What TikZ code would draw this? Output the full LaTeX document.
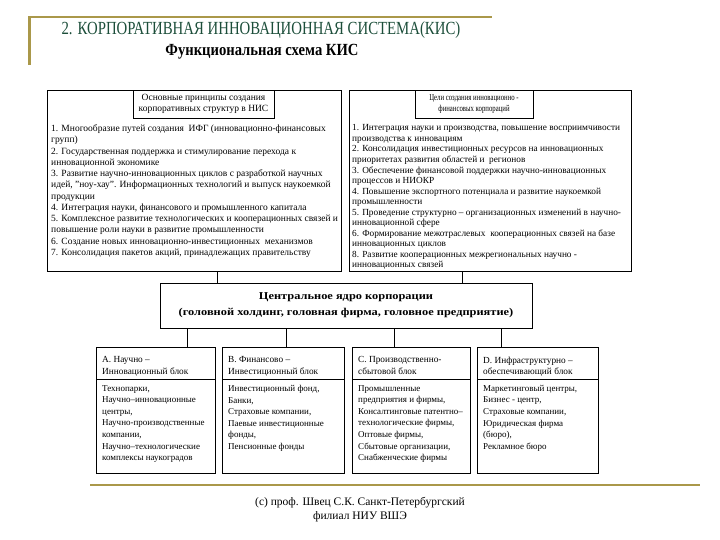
\documentclass[tikz,border=0pt]{standalone}
\usepackage{fontspec}
\setmainfont{Liberation Serif}
\usepackage{graphicx}
\definecolor{gold}{RGB}{170,152,74}
\definecolor{ttl}{RGB}{28,78,58}
\begin{document}
\begin{tikzpicture}[x=1pt,y=-1pt,
  box/.style={draw=black,line width=0.9pt,anchor=north west,inner sep=0pt,outer sep=0pt},
  body/.style={anchor=north west,inner sep=0pt,align=left,font=\fontsize{9.5}{11.25}\selectfont},
  head/.style={inner sep=0pt,align=center,font=\fontsize{9.5}{11}\selectfont},
  lbody/.style={anchor=north west,inner sep=0pt,align=left,font=\fontsize{9}{11.6}\selectfont},
  lhead/.style={anchor=north west,inner sep=0pt,align=left,font=\fontsize{9.3}{11.5}\selectfont},
  conn/.style={draw=black,line width=0.8pt},
  goldline/.style={draw=gold,line width=2.6pt}]
\useasboundingbox (0,0) rectangle (720,540);
% gold frame lines
\draw[goldline] (28,17) -- (492,17);
\draw[goldline] (29.5,17) -- (29.5,65);
\draw[goldline] (90,485) -- (700,485);
% titles
\node[inner sep=0pt,text=ttl,font=\fontsize{18.5}{20}\selectfont] (title) at (261,30)
  {\scalebox{0.80}[1]{2. КОРПОРАТИВНАЯ ИННОВАЦИОННАЯ СИСТЕМА(КИС)}};
\node[inner sep=0pt,font=\bfseries\fontsize{17}{20}\selectfont] (subtitle) at (262,52)
  {\scalebox{0.86}[1]{Функциональная схема КИС}};
% top boxes
\node[box,minimum width=294pt,minimum height=181pt] (lt) at (47,90) {};
\node[box,minimum width=141pt,minimum height=28pt] (lh) at (133,90) {};
\node[head] (lhtxt) at (lh.center) {Основные принципы создания\\корпоративных структур в НИС};
\node[body] (ltxt) at (51,124.5) {1. Многообразие путей создания\ \ ИФГ (инновационно-финансовых\\
групп)\\
2. Государственная поддержка и стимулирование перехода к\\
инновационной экономике\\
3. Развитие научно-инновационных циклов с разработкой научных\\
идей, ''ноу-хау''. Информационных технологий и выпуск наукоемкой\\
продукции\\
4. Интеграция науки, финансового и промышленного капитала\\
5. Комплексное развитие технологических и кооперационных связей и\\
повышение роли науки в развитие промышленности\\
6. Создание новых инновационно-инвестиционных\ \ механизмов\\
7. Консолидация пакетов акций, принадлежащих правительству};
\node[box,minimum width=282pt,minimum height=181pt] (rt) at (349,90) {};
\node[box,minimum width=118pt,minimum height=28pt] (rh) at (415,90) {};
\node[head,font=\fontsize{9}{11.5}\selectfont] (rhtxt) at (rh.center) {\scalebox{0.75}[1]{Цели создания инновационно -}\\\scalebox{0.75}[1]{финансовых корпораций}};
\node[body,font=\fontsize{9.3}{10.55}\selectfont] (rtxt) at (352,124.5) {1. Интеграция науки и производства, повышение восприимчивости\\
производства к инновациям\\
2. Консолидация инвестиционных ресурсов на инновационных\\
приоритетах развития областей и\ \ регионов\\
3. Обеспечение финансовой поддержки научно-инновационных\\
процессов и НИОКР\\
4. Повышение экспортного потенциала и развитие наукоемкой\\
промышленности\\
5. Проведение структурно -- организационных изменений в научно-\\
инновационной сфере\\
6. Формирование межотраслевых\ \ кооперационных связей на базе\\
инновационных циклов\\
8. Развитие кооперационных межрегиональных научно -\\
инновационных связей};
% core
\node[box,minimum width=372pt,minimum height=45pt] (core) at (160,283) {};
\node[inner sep=0pt,align=center,font=\bfseries\fontsize{10.5}{16}\selectfont] (coretxt) at (core.center)
  {\scalebox{1.18}[1]{Центральное ядро корпорации}\\\scalebox{1.18}[1]{(головной холдинг, головная фирма, головное предприятие)}};
\coordinate (u1) at (217,0);
\coordinate (u2) at (462,0);
\draw[conn] (u1 |- lt.south) -- (u1 |- core.north);
\draw[conn] (u2 |- rt.south) -- (u2 |- core.north);
% lower boxes
\node[box,minimum width=119pt,minimum height=32pt] (Ah) at (96,347) {};
\node[box,minimum width=119pt,minimum height=94pt] (Ab) at (96,379) {};
\node[box,minimum width=122pt,minimum height=32pt] (Bh) at (222,347) {};
\node[box,minimum width=122pt,minimum height=94pt] (Bb) at (222,379) {};
\node[box,minimum width=118pt,minimum height=32pt] (Ch) at (352,347) {};
\node[box,minimum width=118pt,minimum height=94pt] (Cb) at (352,379) {};
\node[box,minimum width=121pt,minimum height=32pt] (Dh) at (477,347) {};
\node[box,minimum width=121pt,minimum height=94pt] (Db) at (477,379) {};
\node[lhead] (Aht) at (102,356.5) {А. Научно --\\Инновационный блок};
\node[lhead] (Bht) at (228,356.5) {В. Финансово --\\Инвестиционный блок};
\node[lhead] (Cht) at (358,356.5) {С. Производственно-\\сбытовой блок};
\node[lhead] (Dht) at (483,356.5) {D. Инфраструктурно --\\обеспечивающий блок};
\node[lbody] (Abt) at (102,385) {Технопарки,\\Научно--инновационные\\центры,\\Научно-производственные\\компании,\\Научно--технологические\\комплексы наукоградов};
\node[lbody] (Bbt) at (228,385) {Инвестиционный фонд,\\Банки,\\Страховые компании,\\Паевые инвестиционные\\фонды,\\Пенсионные фонды};
\node[lbody] (Cbt) at (358,385) {Промышленные\\предприятия и фирмы,\\Консалтинговые патентно--\\технологические фирмы,\\Оптовые фирмы,\\Сбытовые организации,\\Снабженческие фирмы};
\node[lbody] (Dbt) at (483,385) {Маркетинговый центры,\\Бизнес - центр,\\Страховые компании,\\Юридическая фирма\\(бюро),\\Рекламное бюро};
\coordinate (d1) at (187,0);
\coordinate (d2) at (286,0);
\coordinate (d3) at (394,0);
\coordinate (d4) at (501,0);
\draw[conn] (d1 |- core.south) -- (d1 |- Ah.north);
\draw[conn] (d2 |- core.south) -- (d2 |- Bh.north);
\draw[conn] (d3 |- core.south) -- (d3 |- Ch.north);
\draw[conn] (d4 |- core.south) -- (d4 |- Dh.north);
% footer
\node[inner sep=0pt,align=center,font=\fontsize{11.5}{14}\selectfont] (foot) at (360,510)
  {(с) проф. Швец С.К. Санкт-Петербургский\\филиал НИУ ВШЭ};
\end{tikzpicture}
\end{document}
